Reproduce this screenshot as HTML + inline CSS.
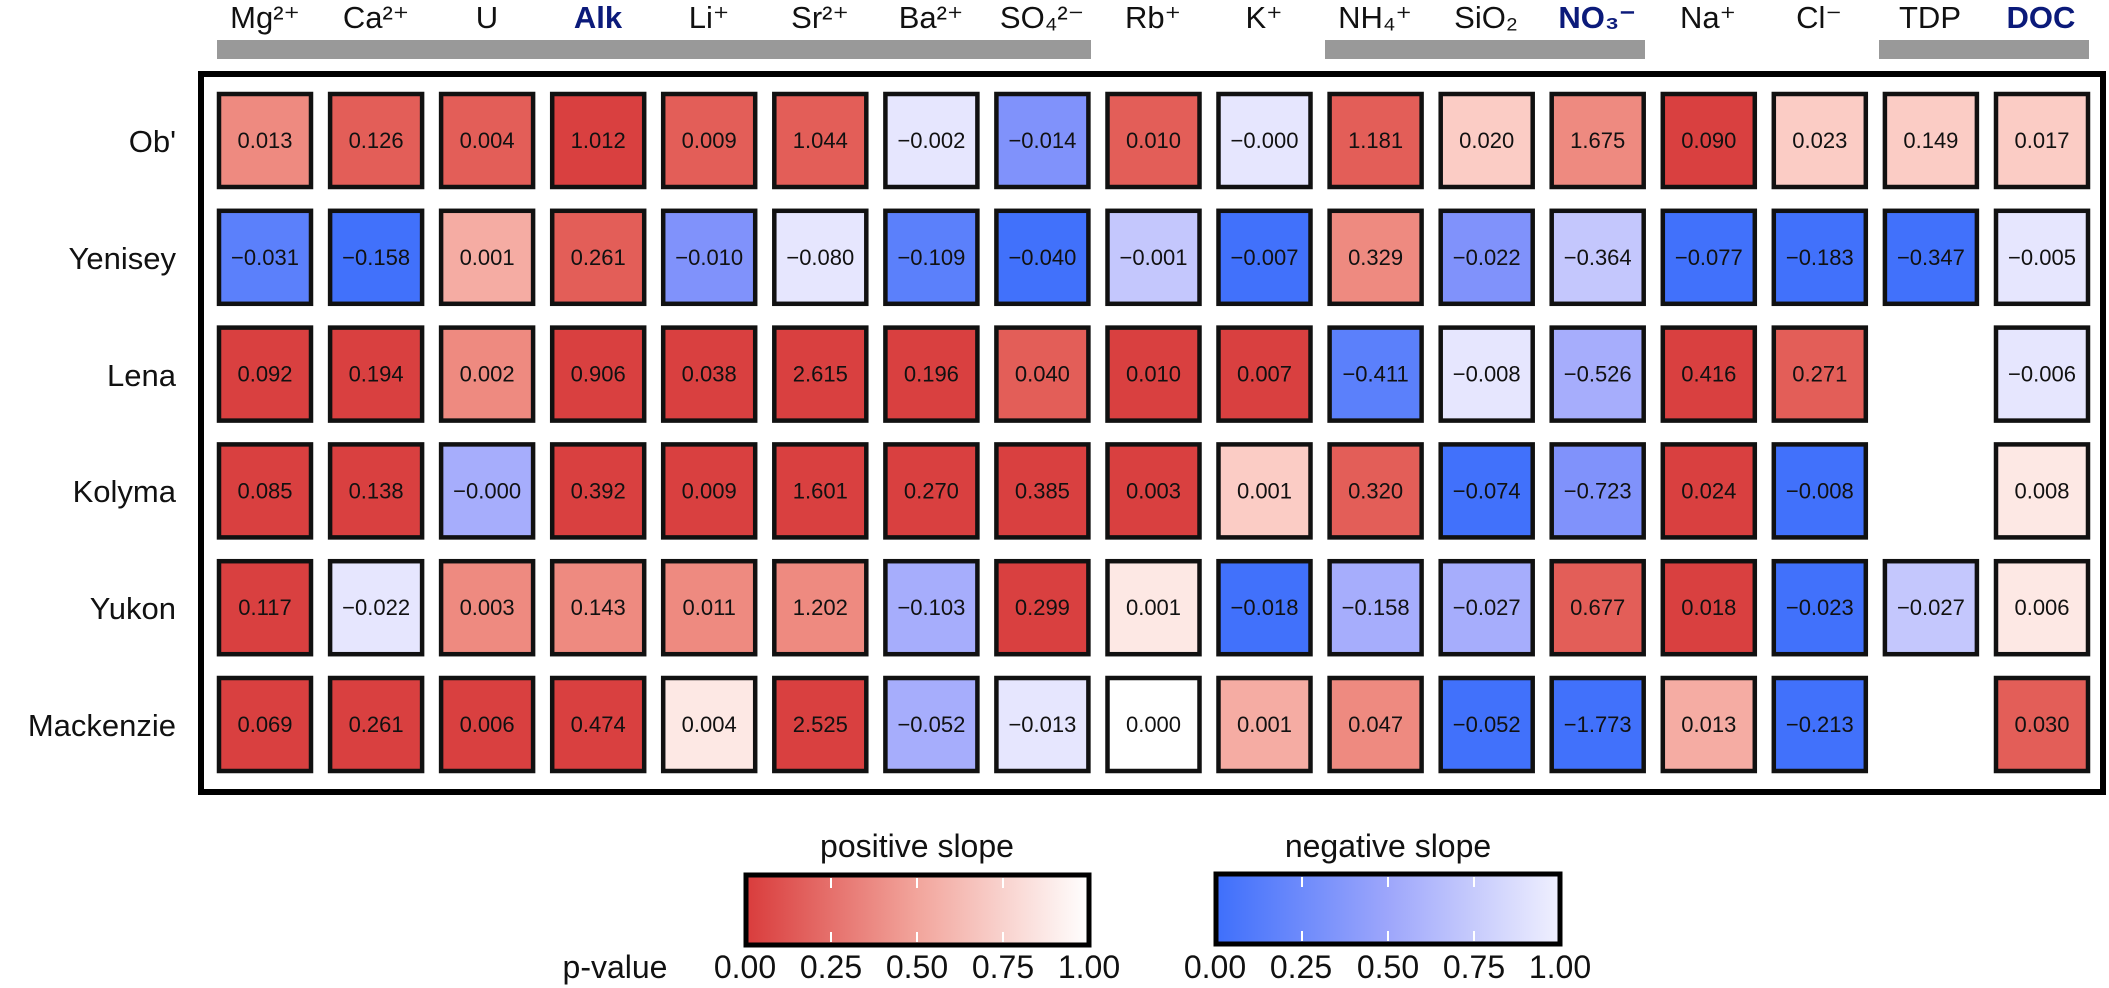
<!DOCTYPE html>
<html><head><meta charset="utf-8"><style>
html,body{margin:0;padding:0;background:#fff;}
svg{display:block;}
text{font-family:"Liberation Sans",Arial,sans-serif;}
.c rect{stroke:#111;stroke-width:4.5;}
.c text{font-size:22px;fill:#111;text-anchor:middle;}
.R0{fill:#d94040}.R1{fill:#e35e58}.R2{fill:#ee8a80}.R3{fill:#f5aca3}.R4{fill:#fbccc5}.R5{fill:#fde8e4}.W{fill:#fff}
.B0{fill:#4171fb}.B1{fill:#5b80fb}.B2{fill:#8092fb}.B3{fill:#a6adfc}.B4{fill:#c4c7fd}.B5{fill:#e6e6fe}
</style></head><body>
<svg width="2109" height="988" viewBox="0 0 2109 988" xmlns="http://www.w3.org/2000/svg">
<defs>
<linearGradient id="gr" x1="0" x2="1" y1="0" y2="0"><stop offset="0" stop-color="#d93c3c"/><stop offset="0.5" stop-color="#f2a59c"/><stop offset="1" stop-color="#ffffff"/></linearGradient>
<linearGradient id="gb" x1="0" x2="1" y1="0" y2="0"><stop offset="0" stop-color="#3e6ffb"/><stop offset="0.5" stop-color="#9da6fb"/><stop offset="1" stop-color="#f0f0fe"/></linearGradient>
</defs>
<rect x="217" y="40" width="874" height="19" fill="#999"/>
<rect x="1325" y="40" width="320" height="19" fill="#999"/>
<rect x="1879" y="40" width="210" height="19" fill="#999"/>
<g font-size="31" fill="#111" text-anchor="middle">
<text x="265" y="28">Mg²⁺</text>
<text x="376" y="28">Ca²⁺</text>
<text x="487" y="28">U</text>
<text x="598" y="28" font-weight="bold" fill="#0b1a7a">Alk</text>
<text x="709" y="28">Li⁺</text>
<text x="820" y="28">Sr²⁺</text>
<text x="931" y="28">Ba²⁺</text>
<text x="1042" y="28">SO₄²⁻</text>
<text x="1153" y="28">Rb⁺</text>
<text x="1264" y="28">K⁺</text>
<text x="1375" y="28">NH₄⁺</text>
<text x="1486" y="28">SiO₂</text>
<text x="1597" y="28" font-weight="bold" fill="#0b1a7a">NO₃⁻</text>
<text x="1708" y="28">Na⁺</text>
<text x="1819" y="28">Cl⁻</text>
<text x="1930" y="28">TDP</text>
<text x="2041" y="28" font-weight="bold" fill="#0b1a7a">DOC</text>
</g>
<rect x="201" y="74" width="1902" height="718" fill="none" stroke="#000" stroke-width="6"/>
<g font-size="31" fill="#111" text-anchor="end">
<text x="176" y="152">Ob'</text>
<text x="176" y="269">Yenisey</text>
<text x="176" y="386">Lena</text>
<text x="176" y="502">Kolyma</text>
<text x="176" y="619">Yukon</text>
<text x="176" y="736">Mackenzie</text>
</g>

<g class="c" transform="translate(0 92)">
<g transform="translate(265 0)"><rect class="R2" x="-46" y="2" width="92" height="93"/><text y="56">0.013</text></g>
<g transform="translate(376.1 0)"><rect class="R1" x="-46" y="2" width="92" height="93"/><text y="56">0.126</text></g>
<g transform="translate(487.1 0)"><rect class="R1" x="-46" y="2" width="92" height="93"/><text y="56">0.004</text></g>
<g transform="translate(598.2 0)"><rect class="R0" x="-46" y="2" width="92" height="93"/><text y="56">1.012</text></g>
<g transform="translate(709.2 0)"><rect class="R1" x="-46" y="2" width="92" height="93"/><text y="56">0.009</text></g>
<g transform="translate(820.3 0)"><rect class="R1" x="-46" y="2" width="92" height="93"/><text y="56">1.044</text></g>
<g transform="translate(931.4 0)"><rect class="B5" x="-46" y="2" width="92" height="93"/><text y="56">−0.002</text></g>
<g transform="translate(1042.4 0)"><rect class="B2" x="-46" y="2" width="92" height="93"/><text y="56">−0.014</text></g>
<g transform="translate(1153.5 0)"><rect class="R1" x="-46" y="2" width="92" height="93"/><text y="56">0.010</text></g>
<g transform="translate(1264.5 0)"><rect class="B5" x="-46" y="2" width="92" height="93"/><text y="56">−0.000</text></g>
<g transform="translate(1375.6 0)"><rect class="R1" x="-46" y="2" width="92" height="93"/><text y="56">1.181</text></g>
<g transform="translate(1486.7 0)"><rect class="R4" x="-46" y="2" width="92" height="93"/><text y="56">0.020</text></g>
<g transform="translate(1597.7 0)"><rect class="R2" x="-46" y="2" width="92" height="93"/><text y="56">1.675</text></g>
<g transform="translate(1708.8 0)"><rect class="R0" x="-46" y="2" width="92" height="93"/><text y="56">0.090</text></g>
<g transform="translate(1819.8 0)"><rect class="R4" x="-46" y="2" width="92" height="93"/><text y="56">0.023</text></g>
<g transform="translate(1930.9 0)"><rect class="R4" x="-46" y="2" width="92" height="93"/><text y="56">0.149</text></g>
<g transform="translate(2042 0)"><rect class="R4" x="-46" y="2" width="92" height="93"/><text y="56">0.017</text></g>
</g>

<g class="c" transform="translate(0 208.8)">
<g transform="translate(265 0)"><rect class="B1" x="-46" y="2" width="92" height="93"/><text y="56">−0.031</text></g>
<g transform="translate(376.1 0)"><rect class="B0" x="-46" y="2" width="92" height="93"/><text y="56">−0.158</text></g>
<g transform="translate(487.1 0)"><rect class="R3" x="-46" y="2" width="92" height="93"/><text y="56">0.001</text></g>
<g transform="translate(598.2 0)"><rect class="R1" x="-46" y="2" width="92" height="93"/><text y="56">0.261</text></g>
<g transform="translate(709.2 0)"><rect class="B2" x="-46" y="2" width="92" height="93"/><text y="56">−0.010</text></g>
<g transform="translate(820.3 0)"><rect class="B5" x="-46" y="2" width="92" height="93"/><text y="56">−0.080</text></g>
<g transform="translate(931.4 0)"><rect class="B1" x="-46" y="2" width="92" height="93"/><text y="56">−0.109</text></g>
<g transform="translate(1042.4 0)"><rect class="B0" x="-46" y="2" width="92" height="93"/><text y="56">−0.040</text></g>
<g transform="translate(1153.5 0)"><rect class="B4" x="-46" y="2" width="92" height="93"/><text y="56">−0.001</text></g>
<g transform="translate(1264.5 0)"><rect class="B0" x="-46" y="2" width="92" height="93"/><text y="56">−0.007</text></g>
<g transform="translate(1375.6 0)"><rect class="R2" x="-46" y="2" width="92" height="93"/><text y="56">0.329</text></g>
<g transform="translate(1486.7 0)"><rect class="B2" x="-46" y="2" width="92" height="93"/><text y="56">−0.022</text></g>
<g transform="translate(1597.7 0)"><rect class="B4" x="-46" y="2" width="92" height="93"/><text y="56">−0.364</text></g>
<g transform="translate(1708.8 0)"><rect class="B0" x="-46" y="2" width="92" height="93"/><text y="56">−0.077</text></g>
<g transform="translate(1819.8 0)"><rect class="B0" x="-46" y="2" width="92" height="93"/><text y="56">−0.183</text></g>
<g transform="translate(1930.9 0)"><rect class="B0" x="-46" y="2" width="92" height="93"/><text y="56">−0.347</text></g>
<g transform="translate(2042 0)"><rect class="B5" x="-46" y="2" width="92" height="93"/><text y="56">−0.005</text></g>
</g>

<g class="c" transform="translate(0 325.6)">
<g transform="translate(265 0)"><rect class="R0" x="-46" y="2" width="92" height="93"/><text y="56">0.092</text></g>
<g transform="translate(376.1 0)"><rect class="R0" x="-46" y="2" width="92" height="93"/><text y="56">0.194</text></g>
<g transform="translate(487.1 0)"><rect class="R2" x="-46" y="2" width="92" height="93"/><text y="56">0.002</text></g>
<g transform="translate(598.2 0)"><rect class="R0" x="-46" y="2" width="92" height="93"/><text y="56">0.906</text></g>
<g transform="translate(709.2 0)"><rect class="R0" x="-46" y="2" width="92" height="93"/><text y="56">0.038</text></g>
<g transform="translate(820.3 0)"><rect class="R0" x="-46" y="2" width="92" height="93"/><text y="56">2.615</text></g>
<g transform="translate(931.4 0)"><rect class="R0" x="-46" y="2" width="92" height="93"/><text y="56">0.196</text></g>
<g transform="translate(1042.4 0)"><rect class="R1" x="-46" y="2" width="92" height="93"/><text y="56">0.040</text></g>
<g transform="translate(1153.5 0)"><rect class="R0" x="-46" y="2" width="92" height="93"/><text y="56">0.010</text></g>
<g transform="translate(1264.5 0)"><rect class="R0" x="-46" y="2" width="92" height="93"/><text y="56">0.007</text></g>
<g transform="translate(1375.6 0)"><rect class="B1" x="-46" y="2" width="92" height="93"/><text y="56">−0.411</text></g>
<g transform="translate(1486.7 0)"><rect class="B5" x="-46" y="2" width="92" height="93"/><text y="56">−0.008</text></g>
<g transform="translate(1597.7 0)"><rect class="B3" x="-46" y="2" width="92" height="93"/><text y="56">−0.526</text></g>
<g transform="translate(1708.8 0)"><rect class="R0" x="-46" y="2" width="92" height="93"/><text y="56">0.416</text></g>
<g transform="translate(1819.8 0)"><rect class="R1" x="-46" y="2" width="92" height="93"/><text y="56">0.271</text></g>
<g transform="translate(2042 0)"><rect class="B5" x="-46" y="2" width="92" height="93"/><text y="56">−0.006</text></g>
</g>

<g class="c" transform="translate(0 442.4)">
<g transform="translate(265 0)"><rect class="R0" x="-46" y="2" width="92" height="93"/><text y="56">0.085</text></g>
<g transform="translate(376.1 0)"><rect class="R0" x="-46" y="2" width="92" height="93"/><text y="56">0.138</text></g>
<g transform="translate(487.1 0)"><rect class="B3" x="-46" y="2" width="92" height="93"/><text y="56">−0.000</text></g>
<g transform="translate(598.2 0)"><rect class="R0" x="-46" y="2" width="92" height="93"/><text y="56">0.392</text></g>
<g transform="translate(709.2 0)"><rect class="R0" x="-46" y="2" width="92" height="93"/><text y="56">0.009</text></g>
<g transform="translate(820.3 0)"><rect class="R0" x="-46" y="2" width="92" height="93"/><text y="56">1.601</text></g>
<g transform="translate(931.4 0)"><rect class="R0" x="-46" y="2" width="92" height="93"/><text y="56">0.270</text></g>
<g transform="translate(1042.4 0)"><rect class="R0" x="-46" y="2" width="92" height="93"/><text y="56">0.385</text></g>
<g transform="translate(1153.5 0)"><rect class="R0" x="-46" y="2" width="92" height="93"/><text y="56">0.003</text></g>
<g transform="translate(1264.5 0)"><rect class="R4" x="-46" y="2" width="92" height="93"/><text y="56">0.001</text></g>
<g transform="translate(1375.6 0)"><rect class="R1" x="-46" y="2" width="92" height="93"/><text y="56">0.320</text></g>
<g transform="translate(1486.7 0)"><rect class="B0" x="-46" y="2" width="92" height="93"/><text y="56">−0.074</text></g>
<g transform="translate(1597.7 0)"><rect class="B2" x="-46" y="2" width="92" height="93"/><text y="56">−0.723</text></g>
<g transform="translate(1708.8 0)"><rect class="R0" x="-46" y="2" width="92" height="93"/><text y="56">0.024</text></g>
<g transform="translate(1819.8 0)"><rect class="B0" x="-46" y="2" width="92" height="93"/><text y="56">−0.008</text></g>
<g transform="translate(2042 0)"><rect class="R5" x="-46" y="2" width="92" height="93"/><text y="56">0.008</text></g>
</g>

<g class="c" transform="translate(0 559.2)">
<g transform="translate(265 0)"><rect class="R0" x="-46" y="2" width="92" height="93"/><text y="56">0.117</text></g>
<g transform="translate(376.1 0)"><rect class="B5" x="-46" y="2" width="92" height="93"/><text y="56">−0.022</text></g>
<g transform="translate(487.1 0)"><rect class="R2" x="-46" y="2" width="92" height="93"/><text y="56">0.003</text></g>
<g transform="translate(598.2 0)"><rect class="R2" x="-46" y="2" width="92" height="93"/><text y="56">0.143</text></g>
<g transform="translate(709.2 0)"><rect class="R2" x="-46" y="2" width="92" height="93"/><text y="56">0.011</text></g>
<g transform="translate(820.3 0)"><rect class="R2" x="-46" y="2" width="92" height="93"/><text y="56">1.202</text></g>
<g transform="translate(931.4 0)"><rect class="B3" x="-46" y="2" width="92" height="93"/><text y="56">−0.103</text></g>
<g transform="translate(1042.4 0)"><rect class="R0" x="-46" y="2" width="92" height="93"/><text y="56">0.299</text></g>
<g transform="translate(1153.5 0)"><rect class="R5" x="-46" y="2" width="92" height="93"/><text y="56">0.001</text></g>
<g transform="translate(1264.5 0)"><rect class="B0" x="-46" y="2" width="92" height="93"/><text y="56">−0.018</text></g>
<g transform="translate(1375.6 0)"><rect class="B3" x="-46" y="2" width="92" height="93"/><text y="56">−0.158</text></g>
<g transform="translate(1486.7 0)"><rect class="B3" x="-46" y="2" width="92" height="93"/><text y="56">−0.027</text></g>
<g transform="translate(1597.7 0)"><rect class="R1" x="-46" y="2" width="92" height="93"/><text y="56">0.677</text></g>
<g transform="translate(1708.8 0)"><rect class="R0" x="-46" y="2" width="92" height="93"/><text y="56">0.018</text></g>
<g transform="translate(1819.8 0)"><rect class="B0" x="-46" y="2" width="92" height="93"/><text y="56">−0.023</text></g>
<g transform="translate(1930.9 0)"><rect class="B4" x="-46" y="2" width="92" height="93"/><text y="56">−0.027</text></g>
<g transform="translate(2042 0)"><rect class="R5" x="-46" y="2" width="92" height="93"/><text y="56">0.006</text></g>
</g>

<g class="c" transform="translate(0 676)">
<g transform="translate(265 0)"><rect class="R0" x="-46" y="2" width="92" height="93"/><text y="56">0.069</text></g>
<g transform="translate(376.1 0)"><rect class="R0" x="-46" y="2" width="92" height="93"/><text y="56">0.261</text></g>
<g transform="translate(487.1 0)"><rect class="R0" x="-46" y="2" width="92" height="93"/><text y="56">0.006</text></g>
<g transform="translate(598.2 0)"><rect class="R0" x="-46" y="2" width="92" height="93"/><text y="56">0.474</text></g>
<g transform="translate(709.2 0)"><rect class="R5" x="-46" y="2" width="92" height="93"/><text y="56">0.004</text></g>
<g transform="translate(820.3 0)"><rect class="R0" x="-46" y="2" width="92" height="93"/><text y="56">2.525</text></g>
<g transform="translate(931.4 0)"><rect class="B3" x="-46" y="2" width="92" height="93"/><text y="56">−0.052</text></g>
<g transform="translate(1042.4 0)"><rect class="B5" x="-46" y="2" width="92" height="93"/><text y="56">−0.013</text></g>
<g transform="translate(1153.5 0)"><rect class="W" x="-46" y="2" width="92" height="93"/><text y="56">0.000</text></g>
<g transform="translate(1264.5 0)"><rect class="R3" x="-46" y="2" width="92" height="93"/><text y="56">0.001</text></g>
<g transform="translate(1375.6 0)"><rect class="R2" x="-46" y="2" width="92" height="93"/><text y="56">0.047</text></g>
<g transform="translate(1486.7 0)"><rect class="B0" x="-46" y="2" width="92" height="93"/><text y="56">−0.052</text></g>
<g transform="translate(1597.7 0)"><rect class="B0" x="-46" y="2" width="92" height="93"/><text y="56">−1.773</text></g>
<g transform="translate(1708.8 0)"><rect class="R3" x="-46" y="2" width="92" height="93"/><text y="56">0.013</text></g>
<g transform="translate(1819.8 0)"><rect class="B0" x="-46" y="2" width="92" height="93"/><text y="56">−0.213</text></g>
<g transform="translate(2042 0)"><rect class="R1" x="-46" y="2" width="92" height="93"/><text y="56">0.030</text></g>
</g>

<g font-size="32" fill="#111" text-anchor="middle">
<text x="917" y="857">positive slope</text>
<text x="1388" y="857">negative slope</text>
<text x="615" y="978">p-value</text>
<text x="745" y="978">0.00</text><text x="831" y="978">0.25</text><text x="917" y="978">0.50</text><text x="1003" y="978">0.75</text><text x="1089" y="978">1.00</text>
<text x="1215" y="978">0.00</text><text x="1301" y="978">0.25</text><text x="1388" y="978">0.50</text><text x="1474" y="978">0.75</text><text x="1560" y="978">1.00</text>
</g>
<rect x="746" y="875" width="343" height="70" fill="url(#gr)" stroke="#000" stroke-width="5"/>
<rect x="1216" y="874" width="344" height="70" fill="url(#gb)" stroke="#000" stroke-width="5"/>
<g stroke="#fff" stroke-width="2">
<line x1="831" y1="878" x2="831" y2="888"/><line x1="917" y1="878" x2="917" y2="888"/><line x1="1003" y1="878" x2="1003" y2="888"/>
<line x1="831" y1="932" x2="831" y2="942"/><line x1="917" y1="932" x2="917" y2="942"/><line x1="1003" y1="932" x2="1003" y2="942"/>
<line x1="1302" y1="877" x2="1302" y2="887"/><line x1="1388" y1="877" x2="1388" y2="887"/><line x1="1474" y1="877" x2="1474" y2="887"/>
<line x1="1302" y1="931" x2="1302" y2="941"/><line x1="1388" y1="931" x2="1388" y2="941"/><line x1="1474" y1="931" x2="1474" y2="941"/>
</g>
</svg>
</body></html>
